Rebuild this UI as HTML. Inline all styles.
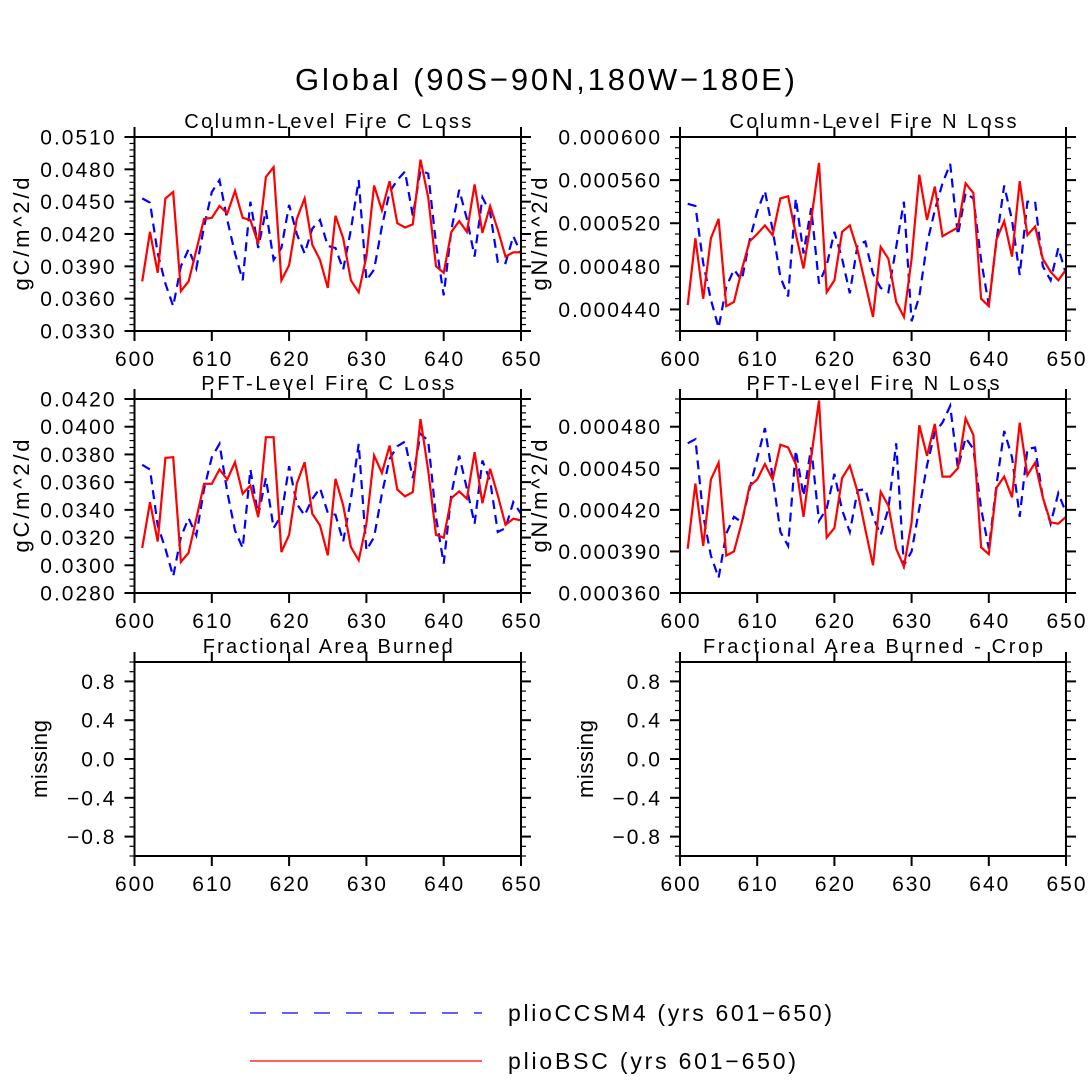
<!DOCTYPE html>
<html><head><meta charset="utf-8"><style>
html,body{margin:0;padding:0;background:#fff;}
svg{display:block;font-family:"Liberation Sans",sans-serif;}
text{fill:#000;}
</style></head><body>
<svg id="chart" width="1090" height="1092" viewBox="0 0 1090 1092" xmlns="http://www.w3.org/2000/svg">
<text x="545" y="90" font-size="31" text-anchor="middle" textLength="500" lengthAdjust="spacing">Global (90S−90N,180W−180E)</text>
<g id="panels"></g>
<g>
<line x1="250" y1="1013" x2="482" y2="1013" stroke="#0000ff" stroke-width="1.2" stroke-dasharray="16,16"/>
<text x="508" y="1021" font-size="23" textLength="324" lengthAdjust="spacing">plioCCSM4 (yrs 601−650)</text>
<line x1="250" y1="1061" x2="482" y2="1061" stroke="#ff0000" stroke-width="1.2"/>
<text x="508" y="1069" font-size="23" textLength="288" lengthAdjust="spacing">plioBSC (yrs 601−650)</text>
</g>
</svg>
<script>
const years = [];
for (let y = 601; y <= 650; y++) years.push(y);
const xTicks = [600, 610, 620, 630, 640, 650];

const colCBlue = [0.0453,0.0449,0.0402,0.0374,0.0353,0.0390,0.0406,0.0388,0.0427,0.0459,0.0470,0.0433,0.0402,0.0377,0.0450,0.0407,0.0442,0.0396,0.0407,0.0447,0.0420,0.0402,0.0425,0.0433,0.0409,0.0407,0.0387,0.0424,0.0470,0.0377,0.0387,0.0427,0.0459,0.0470,0.0478,0.0437,0.0479,0.0476,0.0411,0.0363,0.0424,0.0461,0.0434,0.0399,0.0454,0.0440,0.0394,0.0393,0.0418,0.0402];
const colCRed = [0.0376,0.0422,0.0384,0.0453,0.0459,0.0367,0.0376,0.0405,0.0434,0.0435,0.0446,0.0439,0.0460,0.0435,0.0433,0.0411,0.0473,0.0482,0.0377,0.0391,0.0434,0.0453,0.0410,0.0396,0.0370,0.0437,0.0416,0.0377,0.0366,0.0399,0.0465,0.0442,0.0469,0.0430,0.0426,0.0429,0.0489,0.0454,0.0390,0.0384,0.0422,0.0432,0.0422,0.0466,0.0421,0.0446,0.0424,0.0399,0.0403,0.0403];
const colNBlue = [0.000538,0.000536,0.000483,0.000449,0.000423,0.000461,0.000477,0.000467,0.000504,0.000531,0.000550,0.000514,0.000470,0.000452,0.000543,0.000492,0.000534,0.000464,0.000481,0.000512,0.000487,0.000455,0.000500,0.000503,0.000473,0.000460,0.000456,0.000498,0.000540,0.000429,0.000452,0.000501,0.000532,0.000557,0.000575,0.000509,0.000548,0.000543,0.000486,0.000444,0.000504,0.000555,0.000523,0.000472,0.000540,0.000540,0.000480,0.000467,0.000497,0.000473];
const colNRed = [0.000444,0.000506,0.000450,0.000506,0.000524,0.000443,0.000447,0.000477,0.000503,0.000510,0.000518,0.000509,0.000543,0.000545,0.000510,0.000478,0.000523,0.000576,0.000456,0.000467,0.000512,0.000518,0.000495,0.000464,0.000433,0.000498,0.000487,0.000447,0.000433,0.000487,0.000565,0.000523,0.000554,0.000508,0.000512,0.000516,0.000557,0.000548,0.000450,0.000443,0.000505,0.000522,0.000489,0.000559,0.000509,0.000517,0.000487,0.000475,0.000467,0.000477];
const pftCBlue = [0.03725,0.03691,0.03288,0.0312,0.0292,0.03204,0.0334,0.03216,0.03552,0.0378,0.03876,0.03528,0.03252,0.03124,0.03691,0.0336,0.03629,0.03268,0.0336,0.03715,0.03444,0.0336,0.0348,0.03557,0.03379,0.03364,0.03172,0.0348,0.03876,0.03108,0.03204,0.03516,0.03768,0.03859,0.03893,0.03629,0.03948,0.039,0.03348,0.03012,0.03516,0.03792,0.03552,0.033,0.03756,0.03612,0.0324,0.03268,0.03456,0.03372];
const pftCRed = [0.03124,0.03456,0.03172,0.03775,0.0378,0.03024,0.03091,0.03336,0.03588,0.03588,0.03691,0.03619,0.03744,0.03516,0.03576,0.03348,0.03924,0.03924,0.03096,0.0322,0.03588,0.03744,0.03372,0.03288,0.03072,0.03624,0.03432,0.03132,0.03036,0.0330,0.03792,0.03667,0.03864,0.03547,0.03497,0.03528,0.04056,0.03684,0.0322,0.03199,0.03485,0.03533,0.0348,0.03816,0.03448,0.03696,0.03504,0.03292,0.03336,0.03324];
const pftNBlue = [0.000468,0.000471,0.000416,0.000387,0.000371,0.000403,0.000415,0.000411,0.000435,0.000457,0.000479,0.000444,0.000404,0.000394,0.000463,0.00043,0.000465,0.000412,0.000421,0.000446,0.00042,0.000404,0.000434,0.000435,0.000415,0.000402,0.000421,0.000468,0.00038,0.00039,0.000421,0.000452,0.000476,0.000483,0.000495,0.00045,0.000472,0.000464,0.000421,0.000392,0.000438,0.000477,0.000458,0.000415,0.000464,0.000465,0.000429,0.00041,0.000432,0.000418];
const pftNRed = [0.000392,0.000439,0.000394,0.000442,0.000454,0.000387,0.00039,0.000411,0.000437,0.000442,0.000453,0.000442,0.000467,0.000465,0.000453,0.000415,0.000458,0.000499,0.0004,0.000407,0.000443,0.000452,0.000433,0.000406,0.00038,0.000433,0.000423,0.000392,0.000379,0.000411,0.000481,0.000459,0.000482,0.000444,0.000444,0.00045,0.000486,0.000474,0.000393,0.000388,0.000436,0.000444,0.000429,0.000483,0.000445,0.000454,0.000429,0.000411,0.00041,0.000415];

const yTicks1 = ["0.0330","0.0360","0.0390","0.0420","0.0450","0.0480","0.0510"];
const yTicks2 = ["0.000440","0.000480","0.000520","0.000560","0.000600"];
const yTicks3 = ["0.0280","0.0300","0.0320","0.0340","0.0360","0.0380","0.0400","0.0420"];
const yTicks4 = ["0.000360","0.000390","0.000420","0.000450","0.000480"];
const yTicks5 = ["−0.8","−0.4","0.0","0.4","0.8"];

const NS = "http://www.w3.org/2000/svg";
const root = document.getElementById('panels');
function mk(tag, attrs, parent) {
  const e = document.createElementNS(NS, tag);
  for (const k in attrs) e.setAttribute(k, attrs[k]);
  parent.appendChild(e);
  return e;
}
function num(s){ return parseFloat(s.replace('−','-')); }

const panels = [
  {name:'column-c-loss', title:'Column-Level Fire C Loss', tlen:287, ylab:'gC/m^2/d', ylen:113, x0:134.5, x1:521, y0:137, y1:331, ymin:0.033, ymax:0.051, ticks:yTicks1, minor:0.0006, blue:colCBlue, red:colCRed, labx:29},
  {name:'column-n-loss', title:'Column-Level Fire N Loss', tlen:287, ylab:'gN/m^2/d', ylen:113, x0:680, x1:1066, y0:137, y1:331, ymin:0.00042, ymax:0.0006, ticks:yTicks2, minor:0.00001, blue:colNBlue, red:colNRed, labx:547},
  {name:'pft-c-loss', title:'PFT-Level Fire C Loss', tlen:253, ylab:'gC/m^2/d', ylen:113, x0:134.5, x1:521, y0:399, y1:593, ymin:0.028, ymax:0.042, ticks:yTicks3, minor:0.0005, blue:pftCBlue, red:pftCRed, labx:29},
  {name:'pft-n-loss', title:'PFT-Level Fire N Loss', tlen:253, ylab:'gN/m^2/d', ylen:113, x0:680, x1:1066, y0:399, y1:593, ymin:0.00036, ymax:0.0005, ticks:yTicks4, minor:0.00001, blue:pftNBlue, red:pftNRed, labx:547},
  {name:'area-burned', title:'Fractional Area Burned', tlen:250, ylab:'missing', ylen:78, x0:134.5, x1:521, y0:662, y1:856, ymin:-1, ymax:1, ticks:yTicks5, minor:0.1, blue:null, red:null, labx:47},
  {name:'area-burned-crop', title:'Fractional Area Burned - Crop', tlen:340, ylab:'missing', ylen:78, x0:680, x1:1066, y0:662, y1:856, ymin:-1, ymax:1, ticks:yTicks5, minor:0.1, blue:null, red:null, labx:593},
];

panels.forEach(p => {
  const g = mk('g', {}, root);
  
  
  const xs = v => p.x0 + (v - 600) / 50 * (p.x1 - p.x0);
  const ys = v => p.y1 - (v - p.ymin) / (p.ymax - p.ymin) * (p.y1 - p.y0);
  const cx = (p.x0 + p.x1) / 2;
  const t = mk('text', {x: cx, y: p.y0 - 9, 'font-size': 20, 'text-anchor': 'middle', textLength: p.tlen, lengthAdjust: 'spacing'}, g);
  t.textContent = p.title;
  
  
  const yl = mk('text', {x: 0, y: 0, 'font-size': 22, 'text-anchor': 'middle', textLength: p.ylen, lengthAdjust: 'spacing', transform: `translate(${p.labx},${(p.y0+p.y1)/2}) rotate(-90)`}, g);
  yl.textContent = p.ylab;
  
  
  const nMin = Math.round((p.ymax - p.ymin) / p.minor);
  for (let i = 0; i <= nMin; i++) {
    const y = ys(p.ymin + i * p.minor);
    mk('line', {x1: p.x0 - 5, x2: p.x0, y1: y, y2: y, stroke: '#000', 'stroke-width': 1.2}, g);
    mk('line', {x1: p.x1, x2: p.x1 + 5, y1: y, y2: y, stroke: '#000', 'stroke-width': 1.2}, g);
  }
  p.ticks.forEach(lbl => {
    const y = ys(num(lbl));
    mk('line', {x1: p.x0 - 10, x2: p.x0, y1: y, y2: y, stroke: '#000', 'stroke-width': 2}, g);
    mk('line', {x1: p.x1, x2: p.x1 + 10, y1: y, y2: y, stroke: '#000', 'stroke-width': 2}, g);
    const tl = mk('text', {x: p.x0 - 18, y: y + 7.5, 'font-size': 21, 'letter-spacing': 2, 'text-anchor': 'end'}, g);
    tl.textContent = lbl;
    
    
  });
  xTicks.forEach(v => {
    const x = xs(v);
    mk('line', {x1: x, x2: x, y1: p.y0 - 10, y2: p.y0, stroke: '#000', 'stroke-width': 2}, g);
    mk('line', {x1: x, x2: x, y1: p.y1, y2: p.y1 + 10, stroke: '#000', 'stroke-width': 2}, g);
    const tl = mk('text', {x: x + 1, y: p.y1 + 35, 'font-size': 21, 'letter-spacing': 2, 'text-anchor': 'middle'}, g);
    tl.textContent = String(v);
    
    
  });
  if (p.blue) {
    const bp = years.map((yr, i) => xs(yr).toFixed(1) + ',' + ys(p.blue[i]).toFixed(1)).join(' ');
    const bl = mk('polyline', {points: bp, fill: 'none', stroke: '#0000ff', 'stroke-width': 2.2, 'stroke-dasharray': '9,6'}, g);
    
    
    const rp = years.map((yr, i) => xs(yr).toFixed(1) + ',' + ys(p.red[i]).toFixed(1)).join(' ');
    const rl = mk('polyline', {points: rp, fill: 'none', stroke: '#ff0000', 'stroke-width': 2.2}, g);
    
    
  }
  mk('rect', {x: p.x0, y: p.y0, width: p.x1 - p.x0, height: p.y1 - p.y0, fill: 'none', stroke: '#000', 'stroke-width': 2}, g);
});
</script>
</body></html>
